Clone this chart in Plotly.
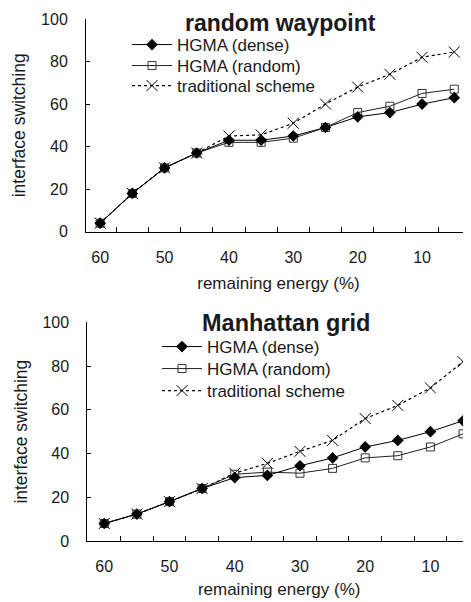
import plotly.graph_objects as go

energy = [60, 55, 50, 45, 40, 35, 30, 25, 20, 15, 10, 5]
tick_vals = [60, 50, 40, 30, 20, 10]
tick_text = ["60", "50", "40", "30", "20", "10"]
boundaries = [57.5, 52.5, 47.5, 42.5, 37.5, 32.5, 27.5, 22.5, 17.5, 12.5, 7.5, 2.5]

rw_dense = [4, 18, 30, 37, 43, 43, 45, 49, 54, 56, 60, 63]
rw_random = [4, 18, 30, 37, 42, 42, 44, 49, 56, 59, 65, 67]
rw_trad = [4, 18, 30, 37, 45, 45.5, 51, 60, 68, 74, 82, 84.5]

mg_dense = [8, 12.3, 18, 24, 29, 30, 34.4, 38, 43, 46, 50, 55]
mg_random = [8, 12.3, 18, 24, 30.5, 31.5, 31, 33.2, 38, 39, 43, 49]
mg_trad = [8, 12.3, 18, 24, 31, 35.5, 41, 46, 56, 62, 70, 82]

names = ["HGMA (dense)", "HGMA (random)", "traditional scheme"]
FONT = "Liberation Sans, Arial, sans-serif"
TXT = "#1a1a1a"

# page body has an 8px margin: work in screen pixels and shift
OFF = 8
W, H = 471 - OFF, 602 - OFF

def px_x(p):
    return (p - OFF) / W

def px_y(p):
    return 1 - (p - OFF) / H

fig = go.Figure()

def add_set(dense, rnd, trad, xa, ya, legs):
    fig.add_trace(go.Scatter(x=energy, y=trad, mode="lines+markers", name=names[2],
                             line=dict(color="black", width=1.2, dash="dot"),
                             marker=dict(symbol="x-thin-open", size=11, line=dict(color="black", width=1)),
                             xaxis=xa, yaxis=ya, legend=legs[2], showlegend=True))
    fig.add_trace(go.Scatter(x=energy, y=rnd, mode="lines+markers", name=names[1],
                             line=dict(color="#222222", width=1),
                             marker=dict(symbol="square-open", size=8, color="#333333", line=dict(width=1)),
                             xaxis=xa, yaxis=ya, legend=legs[1], showlegend=True))
    fig.add_trace(go.Scatter(x=energy, y=dense, mode="lines+markers", name=names[0],
                             line=dict(color="black", width=1),
                             marker=dict(symbol="diamond", size=9, color="black"),
                             xaxis=xa, yaxis=ya, legend=legs[0], showlegend=True))

add_set(rw_dense, rw_random, rw_trad, "x", "y", ["legend", "legend2", "legend3"])
add_set(mg_dense, mg_random, mg_trad, "x2", "y2", ["legend4", "legend5", "legend6"])

def xaxis_cfg(left, right, rng, standoff):
    return dict(domain=[px_x(left), px_x(right)], range=rng, tickmode="array", automargin=False,
                tickvals=tick_vals, ticktext=tick_text, ticks="", showline=True,
                linecolor="black", linewidth=1, showgrid=False, zeroline=False,
                tickfont=dict(size=16, color=TXT, family=FONT), ticklabelstandoff=11,
                minor=dict(tickmode="array", tickvals=boundaries, ticks="inside", ticklen=5,
                           tickcolor="black", tickwidth=1, showgrid=False),
                title=dict(text="remaining energy (%)", font=dict(size=17, color=TXT, family=FONT),
                           standoff=standoff))

def yaxis_cfg(bot, top, anchor):
    return dict(domain=[px_y(bot), px_y(top)], range=[0, 100], tickmode="array", automargin=False,
                tickvals=[0, 20, 40, 60, 80, 100], ticks="inside", ticklen=4, tickcolor="black",
                showline=True, linecolor="black", linewidth=1, showgrid=False, zeroline=False,
                tickfont=dict(size=16, color=TXT, family=FONT), ticklabelstandoff=14,
                anchor=anchor,
                title=dict(text="interface switching", font=dict(size=17.5, color=TXT, family=FONT), standoff=10))

def leg(xp, row_center):
    return dict(bgcolor="rgba(0,0,0,0)", font=dict(size=17, color=TXT, family=FONT),
                xanchor="left", yanchor="top", itemwidth=40,
                x=px_x(xp), y=1 - (row_center - OFF - 19) / H)

fig.update_layout(
    width=W, height=H, paper_bgcolor="white", plot_bgcolor="white",
    margin=dict(l=0, r=0, t=0, b=0, autoexpand=False),
    font=dict(family=FONT, color=TXT), showlegend=True,
    xaxis=dict(**xaxis_cfg(86, 471, [62.2, 2.4], 12), anchor="y"),
    yaxis=yaxis_cfg(231.7, 19, "x"),
    xaxis2=dict(**xaxis_cfg(87.3, 471, [62.6, 3.78], 8), anchor="y2"),
    yaxis2=yaxis_cfg(541, 322.3, "x2"),
    legend=leg(127, 46), legend2=leg(127, 67), legend3=leg(127, 87),
    legend4=leg(157, 348), legend5=leg(157, 370), legend6=leg(157, 392),
    annotations=[
        dict(text="<b>random waypoint</b>", x=px_x(280), y=1, xref="paper", yref="paper",
             xanchor="center", yanchor="top",
             showarrow=False, font=dict(size=23, color=TXT, family=FONT)),
        dict(text="<b>Manhattan grid</b>", x=px_x(286), y=px_y(323), xref="paper", yref="paper",
             xanchor="center", yanchor="middle",
             showarrow=False, font=dict(size=23.5, color=TXT, family=FONT)),
    ],
)

fig.write_html("out.html")
